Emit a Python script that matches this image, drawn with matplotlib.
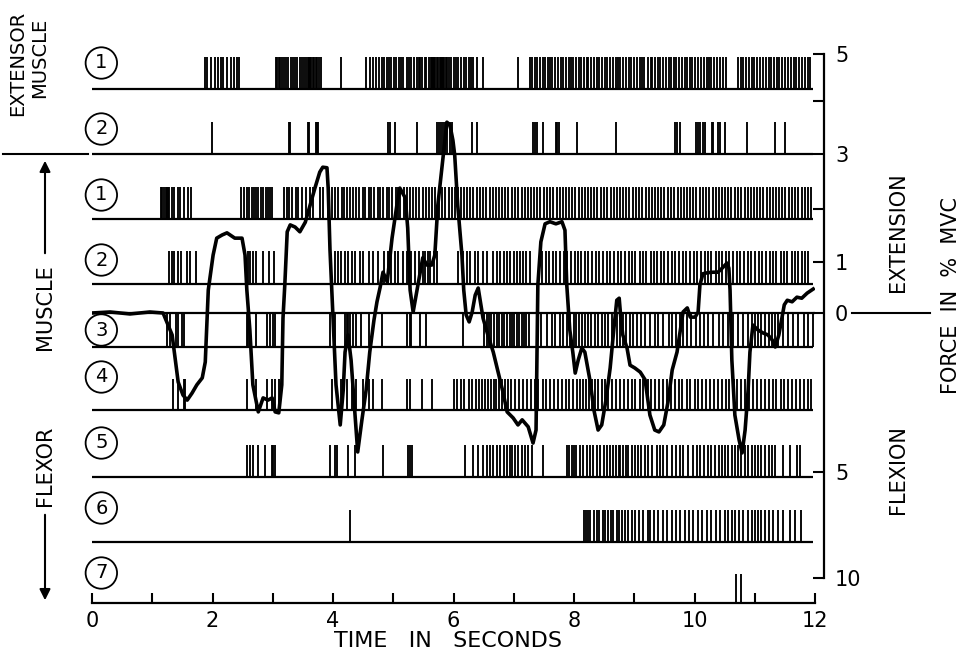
import numpy as np
import matplotlib.pyplot as plt
from matplotlib.lines import Line2D
from matplotlib.transforms import blended_transform_factory

plt.rcParams['font.family'] = 'DejaVu Sans'

# firing times (s) of the single motor units
ext_u1 = [1.88, 1.91, 1.97, 2.04, 2.09, 2.14, 2.17, 2.24, 2.31, 2.36, 2.41, 2.44,
          3.05, 3.07, 3.10, 3.12, 3.15, 3.19, 3.22, 3.26, 3.30, 3.34, 3.37, 3.41, 3.45,
          3.49, 3.52, 3.55, 3.58, 3.60, 3.62, 3.64, 3.66, 3.69, 3.72, 3.74, 3.77, 3.80,
          4.13,
          4.55, 4.61, 4.66, 4.71, 4.76, 4.81, 4.85, 4.89, 4.93, 4.97, 5.02, 5.05, 5.09,
          5.13, 5.17, 5.22, 5.26, 5.30, 5.35, 5.39, 5.43, 5.45, 5.48, 5.52, 5.55, 5.59,
          5.62, 5.64, 5.66, 5.68, 5.70, 5.73, 5.75, 5.77, 5.79, 5.81, 5.83, 5.85, 5.88,
          5.90, 5.93, 5.96, 6.00, 6.04, 6.08, 6.12, 6.17, 6.21, 6.25, 6.29, 6.33, 6.39, 6.49,
          7.07,
          7.27, 7.31, 7.36, 7.39, 7.44, 7.48, 7.52, 7.57, 7.60, 7.64, 7.69, 7.73, 7.78,
          7.81, 7.86, 7.91, 7.95, 7.99, 8.03, 8.08, 8.12, 8.17, 8.21, 8.24, 8.29, 8.34,
          8.38, 8.42, 8.47, 8.51, 8.55, 8.60, 8.65, 8.69, 8.73, 8.77, 8.82, 8.87, 8.91,
          8.95, 8.99, 9.04, 9.09, 9.13, 9.17, 9.22, 9.27, 9.30, 9.35, 9.40, 9.43, 9.48,
          9.53, 9.57, 9.61, 9.66, 9.70, 9.74, 9.79, 9.84, 9.88, 9.92, 9.96, 10.01, 10.06,
          10.10, 10.15, 10.20, 10.24, 10.28, 10.33, 10.38, 10.43, 10.47, 10.52,
          10.72, 10.77, 10.81, 10.86, 10.91, 10.95, 10.99, 11.04, 11.09, 11.14, 11.18,
          11.23, 11.27, 11.32, 11.37, 11.41, 11.46, 11.50, 11.55, 11.60, 11.65, 11.69,
          11.74, 11.79, 11.83, 11.88, 11.92]
ext_u2 = [1.99, 3.27, 3.29, 3.58, 3.60, 3.71, 3.73, 3.75, 4.91, 4.94, 5.03, 5.39,
          5.72, 5.76, 5.79, 5.82, 5.86, 5.90, 5.94, 5.98, 6.31, 6.39, 7.32, 7.35, 7.39,
          7.49, 7.70, 7.72, 7.75, 8.05, 8.70, 9.68, 9.71, 9.76, 10.02, 10.05, 10.09,
          10.14, 10.17, 10.29, 10.31, 10.39, 10.42, 10.51, 10.87, 11.34, 11.50]
flex_u1 = [1.14, 1.17, 1.19, 1.22, 1.24, 1.26, 1.28, 1.32, 1.36, 1.42, 1.46, 1.52, 1.60, 1.65,
           2.48, 2.52, 2.57, 2.61, 2.65, 2.69, 2.73, 2.76, 2.80, 2.84, 2.88, 2.92, 2.95, 2.98,
           3.19, 3.23, 3.27, 3.32, 3.39, 3.42, 3.48, 3.55, 3.61, 3.67, 3.78, 3.84, 3.91, 3.94,
           3.99, 4.04, 4.09, 4.15, 4.19, 4.24, 4.28, 4.34, 4.39, 4.43, 4.49, 4.53, 4.59,
           4.63, 4.68, 4.74, 4.78, 4.83, 4.89, 4.93, 4.98, 5.04, 5.08, 5.12, 5.18, 5.23,
           5.28, 5.33, 5.38, 5.43, 5.49, 5.54, 5.60, 5.65, 5.70, 5.76, 5.81, 5.86, 5.92,
           5.97, 6.02, 6.07, 6.12, 6.17, 6.23, 6.28, 6.33, 6.39, 6.44, 6.49, 6.54, 6.60,
           6.65, 6.70, 6.76, 6.81, 6.86, 6.91, 6.97, 7.02, 7.07, 7.13, 7.18, 7.23, 7.28,
           7.34, 7.39, 7.44, 7.50, 7.55, 7.60, 7.65, 7.71, 7.76, 7.81, 7.87, 7.92, 7.97,
           8.02, 8.08, 8.13, 8.18, 8.24, 8.29, 8.34, 8.39, 8.45, 8.50, 8.55, 8.61, 8.66,
           8.71, 8.76, 8.82, 8.87, 8.92, 8.98, 9.03, 9.08, 9.13, 9.19, 9.24, 9.29, 9.35,
           9.40, 9.45, 9.50, 9.56, 9.61, 9.66, 9.72, 9.77, 9.82, 9.87, 9.93, 9.98, 10.03,
           10.09, 10.14, 10.19, 10.24, 10.30, 10.35, 10.40, 10.46, 10.51, 10.56, 10.61,
           10.67, 10.72, 10.77, 10.83, 10.88, 10.93, 10.98, 11.04, 11.09, 11.14, 11.20,
           11.25, 11.30, 11.35, 11.41, 11.46, 11.51, 11.57, 11.62, 11.67, 11.72, 11.78,
           11.83, 11.88, 11.93]
flex_u2 = [1.28, 1.32, 1.36, 1.43, 1.47, 1.57, 1.63, 1.73,
           2.59, 2.62, 2.68, 2.73, 2.84, 2.93, 3.02,
           4.03, 4.09, 4.13, 4.20, 4.25, 4.31, 4.36, 4.44, 4.50, 4.59, 4.67, 4.75, 4.84,
           4.91, 4.97, 5.03, 5.08, 5.17, 5.23, 5.30, 5.36, 5.42, 5.49, 5.53, 5.57, 5.61,
           5.67, 5.72,
           6.08, 6.16, 6.22, 6.27, 6.36, 6.41, 6.49, 6.55, 6.65, 6.72, 6.77, 6.83, 6.88,
           6.94, 7.00, 7.05, 7.10, 7.16, 7.21, 7.27,
           7.47, 7.53, 7.58, 7.65, 7.70, 7.77, 7.83, 7.88, 7.95, 8.01, 8.06, 8.12, 8.19,
           8.24, 8.30, 8.37, 8.42, 8.48, 8.55, 8.60, 8.66, 8.73, 8.78, 8.84, 8.91, 8.96,
           9.02, 9.09, 9.14, 9.20, 9.27, 9.32, 9.38, 9.45, 9.50, 9.56, 9.63, 9.68, 9.74,
           9.81, 9.86, 9.92, 9.99, 10.04, 10.10, 10.17, 10.22, 10.28, 10.35, 10.40, 10.46,
           10.53, 10.58, 10.64, 10.71, 10.76, 10.82, 10.89, 10.94, 11.00, 11.07, 11.12,
           11.18, 11.25, 11.30, 11.36, 11.43, 11.48, 11.54, 11.61, 11.66, 11.72, 11.79,
           11.84, 11.89]
flex_u3 = [1.25, 1.29, 1.39, 1.42, 1.49, 1.53, 2.57, 2.59, 2.72, 2.90, 2.95, 3.00, 3.04,
           3.95, 4.03, 4.20, 4.23, 4.25, 4.29, 4.34, 4.38, 4.46, 4.59, 4.82, 5.23, 5.27,
           5.29, 5.44, 5.54, 6.16,
           6.50, 6.55, 6.59, 6.63, 6.67, 6.72, 6.76, 6.80, 6.84, 6.88, 6.93, 6.97, 7.00,
           7.05, 7.09, 7.13, 7.17, 7.21, 7.26,
           7.39, 7.46, 7.55, 7.63, 7.68, 7.77, 7.82, 7.88, 7.93, 8.00, 8.04, 8.09, 8.13,
           8.18, 8.24, 8.29, 8.35, 8.40, 8.46, 8.51, 8.57, 8.63, 8.71, 8.76, 8.82, 8.87,
           8.93, 8.98, 9.04, 9.12, 9.18, 9.26, 9.34, 9.40, 9.48, 9.57, 9.62, 9.70, 9.76,
           9.81, 9.88, 9.95, 10.02, 10.09, 10.16, 10.23, 10.31, 10.40, 10.48, 10.56, 10.64,
           10.73, 10.81, 10.89, 10.95, 11.00, 11.06, 11.11, 11.17, 11.23, 11.28, 11.34,
           11.39, 11.47, 11.56, 11.64, 11.72, 11.81, 11.89, 11.97]
flex_u4 = [1.34, 1.43, 1.53, 1.55, 2.57, 2.73, 2.90, 2.98, 3.04, 3.11,
           3.98, 4.14, 4.23, 4.31, 4.39, 4.50, 4.59, 4.67, 4.81, 5.22, 5.28, 5.47, 5.64,
           6.00, 6.06, 6.13, 6.18, 6.25, 6.31, 6.37, 6.43, 6.48, 6.53, 6.58, 6.62, 6.67,
           6.71, 6.76, 6.80, 6.85, 6.90, 6.96, 7.02, 7.09, 7.15, 7.22, 7.28, 7.35, 7.41,
           7.48, 7.54, 7.60, 7.67, 7.73, 7.80, 7.86, 7.92, 7.99, 8.05, 8.10, 8.15, 8.20,
           8.25, 8.30, 8.35, 8.40, 8.46, 8.51, 8.57, 8.63, 8.70, 8.76, 8.83, 8.89, 8.96,
           9.02, 9.09, 9.15, 9.22, 9.28, 9.35, 9.41, 9.48, 9.54, 9.61, 9.67, 9.74, 9.80,
           9.87, 9.93, 10.00, 10.06, 10.13, 10.19, 10.26, 10.32, 10.39, 10.45, 10.52,
           10.58, 10.65, 10.71, 10.78, 10.84, 10.91, 10.97, 11.04, 11.10, 11.17, 11.23,
           11.30, 11.36, 11.43, 11.49, 11.56, 11.62, 11.69, 11.75, 11.82, 11.88, 11.94]
flex_u5 = [2.57, 2.62, 2.68, 2.76, 2.87, 2.98, 3.01, 3.04, 3.95, 4.03, 4.06, 4.25, 4.37,
           4.83, 5.25, 5.28, 5.31,
           6.19, 6.33, 6.41, 6.49, 6.55, 6.61, 6.66, 6.72, 6.77, 6.83, 6.88, 6.93, 6.97,
           7.02, 7.07, 7.13, 7.19, 7.24, 7.30, 7.48,
           7.88, 7.92, 7.96, 8.00, 8.04, 8.10, 8.15, 8.21, 8.27, 8.32, 8.38, 8.43, 8.49,
           8.54, 8.60, 8.65, 8.70, 8.74, 8.77, 8.82, 8.86, 8.90, 8.96, 9.01, 9.07, 9.12,
           9.18, 9.23, 9.29, 9.37, 9.43, 9.48, 9.54, 9.62, 9.70, 9.76, 9.81, 9.90, 9.98,
           10.04, 10.09, 10.15, 10.23, 10.28, 10.34, 10.40, 10.45, 10.51, 10.56, 10.62,
           10.67, 10.73, 10.78, 10.84, 10.89, 10.95, 11.00, 11.06, 11.11, 11.17, 11.23,
           11.28, 11.34, 11.47, 11.59, 11.70, 11.75]
flex_u6 = [4.28,
           8.17, 8.20, 8.24, 8.27, 8.33, 8.38, 8.42, 8.48, 8.51, 8.57, 8.61, 8.65, 8.71,
           8.75, 8.79, 8.85, 8.90, 8.96, 9.01, 9.08, 9.14, 9.22, 9.26, 9.33, 9.40, 9.47,
           9.55, 9.62, 9.69, 9.76, 9.84, 9.91, 9.98, 10.06, 10.13, 10.20, 10.28, 10.36,
           10.43, 10.51, 10.56, 10.62, 10.67, 10.74, 10.81, 10.88, 10.95, 11.00, 11.06,
           11.11, 11.17, 11.24, 11.31, 11.39, 11.47, 11.59, 11.67, 11.76]
flex_u7 = [10.69, 10.77]

units = [ext_u1, ext_u2, flex_u1, flex_u2, flex_u3, flex_u4, flex_u5, flex_u6, flex_u7]
unit_labels = ['1', '2', '1', '2', '3', '4', '5', '6', '7']

# wrist force, % MVC (extension positive, flexion negative)
force_t = [0.00, 0.30, 0.63, 0.96, 1.18, 1.33, 1.38, 1.43, 1.51, 1.58,
           1.66, 1.74, 1.83, 1.88, 1.91, 1.93, 2.01, 2.07, 2.16, 2.24,
           2.37, 2.49, 2.54, 2.57, 2.62, 2.67, 2.76, 2.84, 2.92, 2.99,
           3.04, 3.10, 3.15, 3.17, 3.20, 3.24, 3.29, 3.37, 3.45, 3.54,
           3.62, 3.70, 3.78, 3.83, 3.90, 3.92, 3.95, 3.98, 4.05, 4.12,
           4.17, 4.20, 4.25, 4.30, 4.33, 4.41, 4.48, 4.55, 4.61, 4.68,
           4.73, 4.78, 4.83, 4.90, 4.98, 5.06, 5.11, 5.20, 5.24, 5.28,
           5.33, 5.41, 5.44, 5.49, 5.56, 5.64, 5.69, 5.74, 5.83, 5.89,
           5.94, 5.99, 6.02, 6.07, 6.14, 6.17, 6.21, 6.26, 6.31, 6.36,
           6.41, 6.49, 6.57, 6.66, 6.74, 6.82, 6.89, 6.99, 7.07, 7.14,
           7.24, 7.32, 7.37, 7.40, 7.45, 7.52, 7.60, 7.70, 7.80, 7.85,
           7.88, 7.93, 7.98, 8.02, 8.07, 8.13, 8.18, 8.27, 8.33, 8.40,
           8.46, 8.53, 8.60, 8.66, 8.71, 8.75, 8.78, 8.81, 8.88, 8.93,
           9.01, 9.10, 9.18, 9.26, 9.34, 9.41, 9.49, 9.56, 9.63, 9.71,
           9.76, 9.81, 9.88, 9.93, 10.01, 10.06, 10.09, 10.14, 10.22, 10.31,
           10.39, 10.46, 10.54, 10.57, 10.59, 10.62, 10.67, 10.74, 10.79, 10.84,
           10.89, 10.92, 10.97, 11.05, 11.14, 11.22, 11.29, 11.34, 11.40, 11.45,
           11.49, 11.54, 11.62, 11.70, 11.78, 11.87, 11.97]
force = [0.0, 0.02, -0.03, 0.02, 0.0, -0.69, -1.42, -2.17, -2.58, -2.74,
         -2.52, -2.26, -2.04, -1.54, -0.16, 0.45, 1.13, 1.45, 1.51, 1.55,
         1.45, 1.45, 1.13, 0.45, -0.53, -2.26, -3.11, -2.67, -2.74, -2.67,
         -3.11, -3.14, -2.26, -0.16, 0.55, 1.57, 1.70, 1.66, 1.57, 1.75,
         2.07, 2.38, 2.67, 2.76, 2.75, 2.38, 1.23, 0.45, -2.26, -3.52,
         -2.42, -1.23, -0.69, -1.48, -2.26, -4.37, -3.36, -2.42, -1.23, -0.22,
         0.22, 0.49, 0.80, 0.61, 1.45, 2.07, 2.38, 2.20, 1.64, 0.45,
         0.02, 0.55, 0.74, 1.08, 0.94, 0.94, 1.13, 2.07, 2.98, 3.60,
         3.55, 3.26, 2.98, 2.07, 1.13, 0.45, -0.06, -0.28, 0.02, 0.35,
         0.49, -0.16, -0.69, -1.23, -1.86, -2.48, -3.11, -3.30, -3.52, -3.36,
         -3.58, -4.09, -3.68, 0.55, 1.38, 1.72, 1.76, 1.72, 1.76, 1.60,
         0.55, -0.53, -1.23, -1.89, -1.48, -1.10, -1.23, -2.17, -3.05, -3.68,
         -3.52, -2.74, -1.73, -0.53, 0.25, 0.29, -0.22, -0.69, -1.10, -1.64,
         -1.73, -1.86, -2.10, -3.21, -3.68, -3.74, -3.52, -2.80, -1.79, -1.23,
         -0.60, 0.02, 0.10, -0.13, -0.13, 0.02, 0.55, 0.77, 0.79, 0.80,
         0.80, 0.88, 0.98, 0.88, 0.45, -1.48, -3.21, -3.99, -4.40, -3.68,
         -2.42, -1.23, -0.38, -0.53, -0.63, -0.69, -0.85, -1.07, -0.69, -0.16,
         0.16, 0.25, 0.22, 0.31, 0.29, 0.39, 0.47]

force_ticks = [-10, -5, 0, 1, 2, 3, 4, 5]
force_ticklabels = ['10', '5', '0', '1', '', '3', '', '5']

# ---- layout (figure pixels from the top edge) ----
W, H = 963, 656
row_base = [89, 154, 219, 284, 347, 410, 477, 542, 603]
row_top = [57, 122, 187, 251, 313, 379, 445, 510, 574]
row_label_y = [63, 129, 195, 260, 330, 377, 443, 508, 573]
axis_y = 603

# force calibration of the right-hand scale (force -> pixel row)
cal_f = np.array([-20, -10, -5, 0, 1, 2, 3, 4, 5, 15])
cal_y = np.array([790, 578, 472, 313, 262, 209, 154, 101, 54, -416])


def f2g(f):
    return -np.interp(f, cal_f, cal_y)


def g2f(g):
    return np.interp(g, -cal_y, cal_f)


fig = plt.figure(figsize=(W / 100, H / 100), dpi=100)
x0, x1 = 92, 815
ax = fig.add_axes([x0 / W, (H - axis_y) / H, (x1 - x0) / W, axis_y / H])
ax.set_xlim(0, 12)
ax.set_ylim(axis_y, 0)
for s in ['top', 'left', 'right']:
    ax.spines[s].set_visible(False)
ax.spines['bottom'].set_linewidth(1.6)
ax.set_yticks([])
ax.set_xticks(range(13))
ax.set_xticklabels([str(i) if i % 2 == 0 else '' for i in range(13)])
ax.tick_params(axis='x', direction='in', length=7, width=1.5, pad=6, labelsize=15)

# spike rasters
for times, base, top in zip(units, row_base, row_top):
    ax.vlines(times, top, base, colors='k', lw=1.35)
for base in row_base[:-1]:
    ax.hlines(base, 0, 11.97, colors='k', lw=1.6)

for y, lab in zip(row_label_y, unit_labels):
    ax.text(0.155, y, lab, ha='center', va='center', fontsize=14,
            bbox=dict(boxstyle='circle,pad=0.32', fc='none', ec='k', lw=1.3),
            clip_on=False)

# force trace on its own scale
ax2 = ax.twinx()
ax2.set_yscale('function', functions=(f2g, g2f))
ax2.set_ylim(g2f(-axis_y), g2f(0))
for s in ['top', 'left', 'bottom']:
    ax2.spines[s].set_visible(False)
ax2.spines['right'].set_bounds(-10, 5)
ax2.spines['right'].set_position(('axes', (824 - x0) / (x1 - x0)))
ax2.spines['right'].set_linewidth(1.6)
ax2.set_yticks(force_ticks)
ax2.set_yticklabels(force_ticklabels)
ax2.yaxis.set_minor_locator(plt.NullLocator())
ax2.tick_params(axis='y', direction='in', length=8, width=1.5, pad=8, labelsize=15)

ax2.axhline(0, color='k', lw=1.6)
ax2.plot(force_t, force, color='k', lw=2.6, solid_joinstyle='round')
zero_tr = blended_transform_factory(fig.transFigure, ax2.transData)
ax2.plot([852 / W, 930 / W], [0, 0], color='k', lw=1.5, transform=zero_tr, clip_on=False)

# axis titles
fig.text(448 / W, 1 - 641 / H, 'TIME   IN   SECONDS', ha='center', va='center', fontsize=16)
fig.text(18 / W, 1 - 63 / H, 'EXTENSOR', rotation=90, ha='center', va='center', fontsize=14)
fig.text(40 / W, 1 - 58 / H, 'MUSCLE', rotation=90, ha='center', va='center', fontsize=14)
fig.text(45 / W, 1 - 466 / H, 'FLEXOR', rotation=90, ha='center', va='center', fontsize=15)
fig.text(45 / W, 1 - 307 / H, 'MUSCLE', rotation=90, ha='center', va='center', fontsize=15)
fig.add_artist(Line2D([3 / W, 88 / W], [1 - 154 / H] * 2, color='k', lw=1.5))
ax.annotate('', xy=(45, H - 158), xytext=(45, H - 256), xycoords='figure pixels',
            arrowprops=dict(arrowstyle='-|>', color='k', lw=1.5, mutation_scale=16))
ax.annotate('', xy=(45, H - 603), xytext=(45, H - 512), xycoords='figure pixels',
            arrowprops=dict(arrowstyle='-|>', color='k', lw=1.5, mutation_scale=16))

fig.text(898 / W, 1 - 232 / H, 'EXTENSION', rotation=90, ha='center', va='center', fontsize=15)
fig.text(898 / W, 1 - 470 / H, 'FLEXION', rotation=90, ha='center', va='center', fontsize=15)
fig.text(951 / W, 1 - 295 / H, 'FORCE  IN  %  MVC', rotation=90, ha='center', va='center',
         fontsize=15)

fig.savefig('out.png', dpi=100)
